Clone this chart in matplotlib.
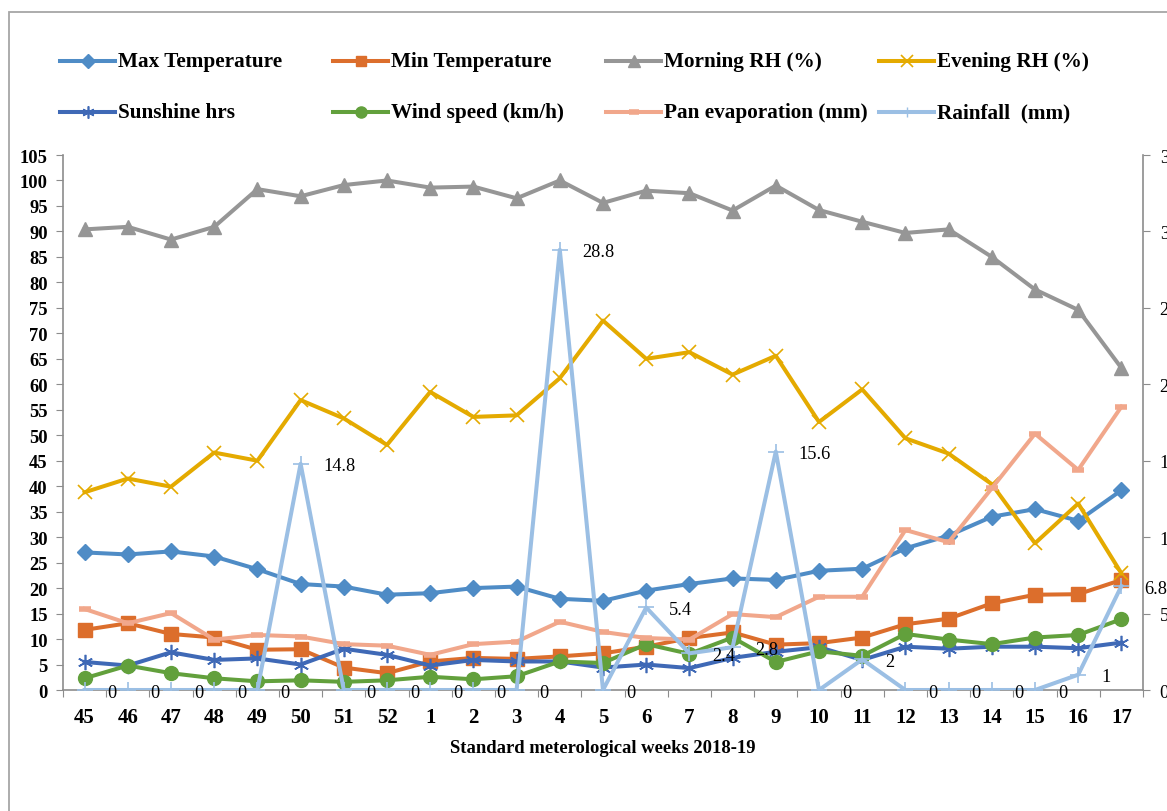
import matplotlib
matplotlib.use('Agg')
import matplotlib.pyplot as plt
from matplotlib.lines import Line2D
from matplotlib.patches import Rectangle
import numpy as np

plt.rcParams['font.family'] = ['Liberation Serif', 'DejaVu Serif']

weeks = ['45', '46', '47', '48', '49', '50', '51', '52', '1', '2', '3', '4', '5',
         '6', '7', '8', '9', '10', '11', '12', '13', '14', '15', '16', '17']

max_temp = [27.0, 26.6, 27.2, 26.2, 23.7, 20.8, 20.3, 18.7, 19.0, 20.0, 20.3, 17.9, 17.5,
            19.5, 20.8, 21.9, 21.6, 23.4, 23.8, 27.8, 30.3, 34.0, 35.5, 33.2, 39.2]
min_temp = [11.8, 13.1, 11.0, 10.3, 7.9, 8.0, 4.4, 3.3, 5.6, 6.3, 6.1, 6.6, 7.2,
            8.5, 10.2, 11.3, 8.9, 9.2, 10.3, 12.9, 14.0, 17.0, 18.7, 18.8, 21.6]
morning_rh = [90.4, 90.9, 88.4, 90.9, 98.3, 96.9, 99.1, 100.0, 98.6, 98.8, 96.5, 100.0, 95.6,
              98.0, 97.5, 94.1, 99.0, 94.2, 91.9, 89.7, 90.4, 85.0, 78.6, 74.6, 63.2]
evening_rh = [38.8, 41.5, 39.9, 46.6, 45.0, 56.9, 53.3, 48.1, 58.5, 53.6, 53.9, 61.2, 72.5,
              65.0, 66.3, 61.9, 65.6, 52.6, 59.0, 49.4, 46.4, 40.4, 28.8, 36.6, 22.9]
sunshine = [5.5, 4.8, 7.4, 5.9, 6.2, 5.0, 8.1, 6.9, 4.8, 5.9, 5.6, 5.6, 4.4,
            5.0, 4.3, 6.3, 7.5, 8.4, 5.9, 8.5, 8.1, 8.5, 8.5, 8.2, 9.3]
wind_speed = [2.3, 4.8, 3.3, 2.3, 1.7, 1.9, 1.6, 1.9, 2.6, 2.1, 2.7, 5.6, 5.3,
              9.0, 7.1, 10.3, 5.5, 7.6, 6.7, 11.0, 9.9, 9.0, 10.3, 10.8, 13.9]
pan_evap = [15.9, 13.1, 15.1, 9.9, 10.8, 10.5, 9.0, 8.7, 6.9, 9.0, 9.5, 13.4, 11.4,
            10.2, 9.9, 14.9, 14.3, 18.3, 18.3, 31.4, 29.0, 39.6, 50.3, 43.2, 55.6]
rainfall = [0, 0, 0, 0, 0, 14.8, 0, 0, 0, 0, 0, 28.8, 0,
            5.4, 2.4, 2.8, 15.6, 0, 2, 0, 0, 0, 0, 1, 6.8]

# label, data, color, marker, marker size, marker edge width
series = [
    ('Max Temperature', max_temp, '#4F8CC6', 'D', 8.5, 1),
    ('Min Temperature', min_temp, '#DC6E2C', 's', 9.5, 1),
    ('Morning RH (%)', morning_rh, '#969696', '^', 10.5, 1),
    ('Evening RH (%)', evening_rh, '#E4AA00', 'x', 10, 1.2),
    ('Sunshine hrs', sunshine, '#3F69B6', (6, 2, 0), 11, 1.2),
    ('Wind speed (km/h)', wind_speed, '#62A03C', 'o', 10, 1),
    ('Pan evaporation (mm)', pan_evap, '#F1A78B', '_', 9, 4),
]
rain_color = '#9BBFE4'
axis_gray = '#8C8C8C'

W, H = 1167, 812
fig = plt.figure(figsize=(W / 100, H / 100), dpi=100)
ax = fig.add_axes([63 / W, 1 - 691 / H, 1080 / W, 535 / H])

x = np.arange(len(weeks))
for label, data, color, marker, ms, mew in series:
    ax.plot(x, data, color=color, lw=2.9, marker=marker, ms=ms, mew=mew,
            mec=color, mfc=color, solid_joinstyle='round', label=label)

ax.set_xlim(-0.5, len(weeks) - 0.5)
ax.set_ylim(0, 105)
ax.set_yticks(np.arange(0, 106, 5))
ax.set_xticks(np.arange(-0.5, len(weeks), 1))
ax.set_xticklabels([])
ax.set_xticks(x, minor=True)
ax.set_xticklabels(weeks, minor=True, fontsize=15, fontweight='bold')
ax.tick_params(axis='x', which='minor', length=0, pad=12)
ax.tick_params(axis='x', which='major', length=5, color=axis_gray, direction='out')
ax.tick_params(axis='y', length=5, color=axis_gray, direction='out', pad=6,
               labelsize=13.3)
for t in ax.get_yticklabels():
    t.set_fontweight('bold')
for side in ['top', 'right']:
    ax.spines[side].set_visible(False)
for side in ['left', 'bottom']:
    ax.spines[side].set_color(axis_gray)
    ax.spines[side].set_linewidth(1.2)
ax.set_xlabel('Standard meterological weeks 2018-19', fontsize=13.4,
              fontweight='bold', labelpad=9)

ax2 = ax.twinx()
ax2.plot(x, rainfall, color=rain_color, lw=2.9, marker='+', ms=11, mew=1.2,
         mec=rain_color)
ax2.set_ylim(0, 35)
ax2.set_yticks(np.arange(0, 36, 5))
ax2.tick_params(axis='y', length=5, color=axis_gray, direction='out', pad=7,
                labelsize=13.3)
for side in ['top', 'left', 'bottom']:
    ax2.spines[side].set_visible(False)
ax2.spines['right'].set_color(axis_gray)
ax2.spines['right'].set_linewidth(1.2)
for xi, v in zip(x, rainfall):
    ax2.annotate(f'{v:g}', (xi, v), xytext=(16.5, -1.5), textcoords='offset points',
                 ha='left', va='center', fontsize=13.2)

# legend laid out like the spreadsheet: 4 equal columns, 2 rows
rows_y = [1 - 62 / H, 1 - 113 / H]
cols_x = [60, 333, 606, 879]
leg_order = series + [('Rainfall  (mm)', rainfall, rain_color, '+', 9, 1)]
for i, (label, _, color, marker, ms, mew) in enumerate(leg_order):
    cx = cols_x[i % 4]
    yy = rows_y[i // 4]
    fig.add_artist(Line2D([cx / W, (cx + 27.5) / W, (cx + 55) / W], [yy, yy, yy],
                          transform=fig.transFigure, color=color, lw=2.9,
                          marker=marker, markevery=[1], ms=ms * 0.8, mew=mew,
                          mec=color, mfc=color))
    fig.text((cx + 58) / W, yy, label, fontsize=15.3, fontweight='bold',
             ha='left', va='center')

# chart frame
fig.add_artist(Rectangle((8.5 / W, -0.2), 1.2, 1.2 - 13 / H,
                         transform=fig.transFigure, fill=False,
                         edgecolor='#A6A6A6', lw=1.3))

fig.savefig('out.png', dpi=100)
